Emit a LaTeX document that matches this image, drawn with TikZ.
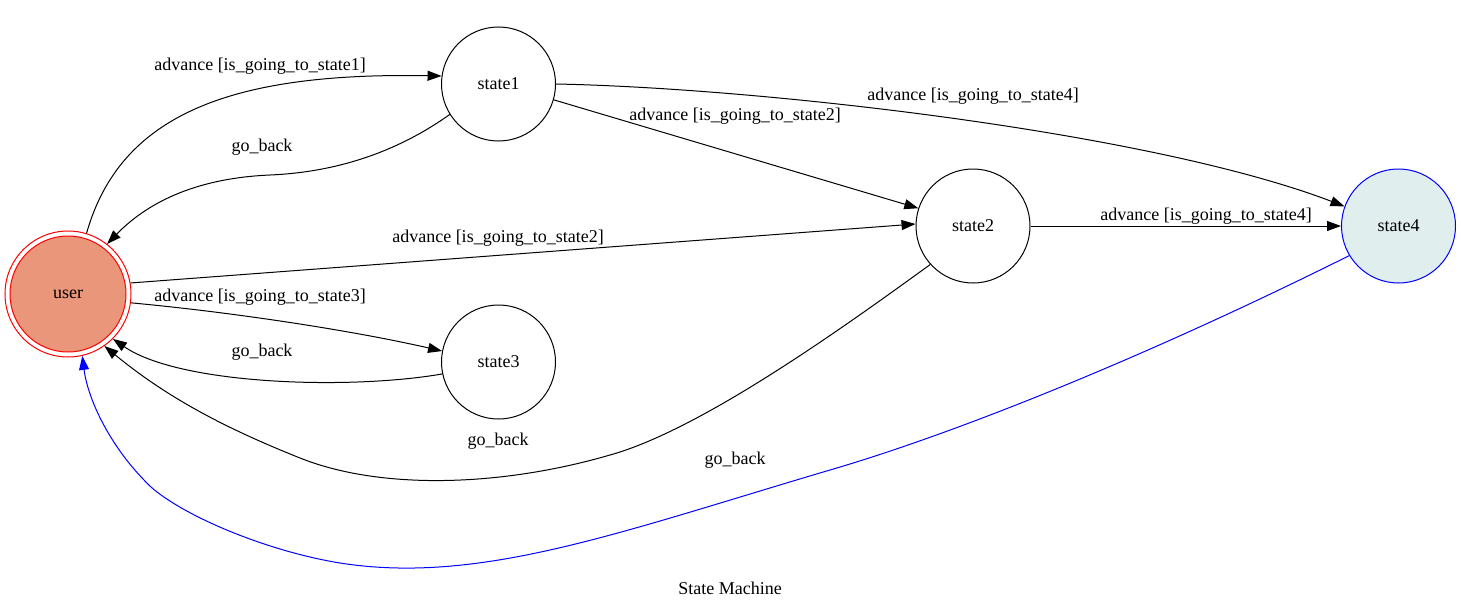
\documentclass[tikz,border=0pt]{standalone}
\usepackage{fontspec}
\setmainfont{Liberation Serif}
\usetikzlibrary{arrows.meta}
\definecolor{usefill}{HTML}{E9967A}
\definecolor{s4fill}{HTML}{E0EEEE}
\tikzset{
  st/.style={circle,draw=black,line width=1pt,minimum size=114pt,inner sep=0pt,font=\fontsize{18}{20}\selectfont},
  lbl/.style={inner sep=0pt,font=\fontsize{18}{20}\selectfont},
  edge/.style={line width=1pt,-{Triangle[length=14pt,width=10pt]}},
}
\begin{document}
\begin{tikzpicture}[x=1pt,y=-1pt]
\useasboundingbox (0,0) rectangle (1461,610);
% nodes
\node[circle,draw=red,line width=1pt,minimum size=126pt,inner sep=0pt] (userout) at (68,294) {};
\node[st,draw=red,fill=usefill,minimum size=116pt] (user) at (68,294) {user};
\node[st] (s1) at (498.5,84) {state1};
\node[st] (s2) at (973,226) {state2};
\node[st] (s3) at (498.5,362) {state3};
\node[st,draw=blue,fill=s4fill] (s4) at (1398.5,226) {state4};
% labels
\node[lbl] (l1) at (260,66) {advance [is\_going\_to\_state1]};
\node[lbl] (l2) at (262,147) {go\_back};
\node[lbl] (l3) at (735,116) {advance [is\_going\_to\_state2]};
\node[lbl] (l4) at (973,96) {advance [is\_going\_to\_state4]};
\node[lbl] (l5) at (498,238) {advance [is\_going\_to\_state2]};
\node[lbl] (l6) at (1206,216) {advance [is\_going\_to\_state4]};
\node[lbl] (l7) at (260,297) {advance [is\_going\_to\_state3]};
\node[lbl] (l8) at (262,352) {go\_back};
\node[lbl] (l9) at (498,441) {go\_back};
\node[lbl] (l10) at (735,460) {go\_back};
\node[lbl] (title) at (730,588) {State Machine};
% edges
\draw[edge] (userout.73) .. controls (120,115) and (230,72) .. (s1.172);
\draw[edge] (s1.212) .. controls (400,150) and (340,172) .. (270,175) .. controls (200,178) and (150,200) .. (userout.52);
\draw[edge] (s1.-16) -- (s2.162);
\draw[edge] (s1.0) .. controls (760,88) and (1150,132) .. (s4.160);
\draw[edge] (userout.10) -- (s2.178);
\draw[edge] (s2.east) -- (s4.west);
\draw[edge] (userout.-8) .. controls (230,312) and (350,330) .. (s3.169);
\draw[edge] (s3.192) .. controls (350,390) and (180,385) .. (userout.-45);
\draw[edge] (s2.222) .. controls (840,330) and (700,430) .. (610,455) .. controls (500,487) and (380,490) .. (300,458) .. controls (230,430) and (170,400) .. (userout.-55);
\draw[edge,draw=blue] (s4.211) .. controls (1150,355) and (960,432) .. (830,470) .. controls (620,532) and (480,585) .. (340,563) .. controls (260,550) and (170,510) .. (144,480) .. controls (110,445) and (88,400) .. (userout.-77);
\end{tikzpicture}
\end{document}
